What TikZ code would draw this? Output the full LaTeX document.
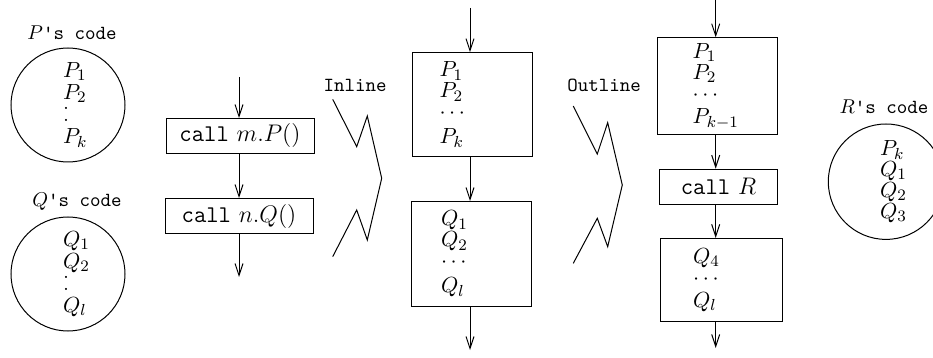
\documentclass[tikz,border=0pt]{standalone}
\usepackage{amsmath,amssymb}
\usepackage{tikz}
\usetikzlibrary{arrows.meta,positioning,calc}

% tight stacks of statements
\newcommand{\stackfont}[1]{\fontsize{11}{#1}\selectfont\lineskiplimit=-20pt\relax}
\newcommand{\twodots}{\leavevmode\vbox{\baselineskip6pt\lineskiplimit0pt\hbox{.}\hbox{.}}}

\begin{document}
\begin{tikzpicture}[
  x=0.5pt, y=-0.5pt,
  font=\normalsize,
  flow/.style={-{Straight Barb[length=6pt,width=4pt]}, line width=0.5pt},
  code/.style={draw, circle, line width=0.5pt, minimum size=#1, inner sep=0pt,
    align=left, text width=5pt, font=\stackfont{11pt}},
  callbox/.style={draw, rectangle, line width=0.5pt, minimum width=#1, minimum height=17.5pt,
    inner sep=0pt, font=\large},
  blk/.style={draw, rectangle, line width=0.5pt, align=left, inner ysep=0pt,
    font=\stackfont{10.5pt}},
  zig/.style={line width=0.5pt, line join=miter},
  lab/.style={inner sep=0pt}
]
\useasboundingbox (0,0) rectangle (933,358);
% code of P and Q
\node[lab] (plab) at (72,33) {$P$\texttt{'s code}};
\node[code=57pt] (pcode) at (68,105) {$P_1$\\$P_2$\\\twodots\\$P_k$};
\node[lab] (qlab) at (77,202) {$Q$\texttt{'s code}};
\node[code=57pt] (qcode) at (68,274) {$Q_1$\\$Q_2$\\\twodots\\$Q_l$};
% original flow
\coordinate (in1) at (239,77);
\node[callbox=74pt] (callp) at (240,136) {\texttt{call} $m.P()$};
\node[callbox=74pt] (callq) at (239,216) {\texttt{call} $n.Q()$};
\coordinate (out1) at (239,277);
\draw[flow] (in1) -- (in1 |- callp.north);
\draw[flow] (in1 |- callp.south) -- (in1 |- callq.north);
\draw[flow] (in1 |- callq.south) -- (out1);
% inline step
\node[lab, font=\ttfamily] (inl) at (355,85) {Inline};
\draw[zig] (332.7,99.3) -- (356.7,146.7) -- (367.3,116) -- (381.7,178.3)
  -- (367.3,240) -- (356.7,210) -- (332.7,256.7);
% inlined flow
\coordinate (in2) at (470,8);
\node[blk, inner xsep=13.5pt, text width=33pt, minimum height=52pt] (pblk) at (472.5,104.7)
  {$P_1$\\$P_2$\\$\cdots$\\[2pt]$P_k$};
\node[blk, inner xsep=15pt, text width=30pt, minimum height=52.5pt] (qblk) at (471,254)
  {$Q_1$\\$Q_2$\\$\cdots$\\[2pt]$Q_l$};
\coordinate (out2) at (470,350);
\draw[flow] (in2) -- (in2 |- pblk.north);
\draw[flow] (in2 |- pblk.south) -- (in2 |- qblk.north);
\draw[flow] (in2 |- qblk.south) -- (out2);
% outline step
\node[lab, font=\ttfamily] (outl) at (604,85) {Outline};
\draw[zig] (573.3,106) -- (597.3,154) -- (607.7,122.7) -- (622.3,185)
  -- (607.7,246.7) -- (597.3,218.3) -- (573.3,263.3);
% outlined flow
\coordinate (in3) at (715.7,0);
\node[blk, inner xsep=17.5pt, text width=25pt, minimum height=48.5pt] (pblk2) at (717.7,86.3)
  {$P_1$\\$P_2$\\$\cdots$\\[1pt]$P_{k-1}$};
\node[callbox=59pt] (callr) at (718.5,186.7) {\texttt{call} $R$};
\node[blk, inner xsep=16.3pt, text width=28.4pt, minimum height=41.3pt] (qblk2) at (721.5,279.7)
  {$Q_4$\\$\cdots$\\[1pt]$Q_l$};
\coordinate (out3) at (715.7,348);
\draw[flow] (in3) -- (in3 |- pblk2.north);
\draw[flow] (in3 |- pblk2.south) -- (in3 |- callr.north);
\draw[flow] (in3 |- callr.south) -- (in3 |- qblk2.north);
\draw[flow] (in3 |- qblk2.south) -- (out3);
% code of R
\node[lab] (rlab) at (884,107) {$R$\texttt{'s code}};
\node[code=57.7pt, text width=6pt, font=\stackfont{10.5pt}] (rcode) at (886,181.7)
  {$P_k$\\$Q_1$\\$Q_2$\\$Q_3$};
\end{tikzpicture}
\end{document}
